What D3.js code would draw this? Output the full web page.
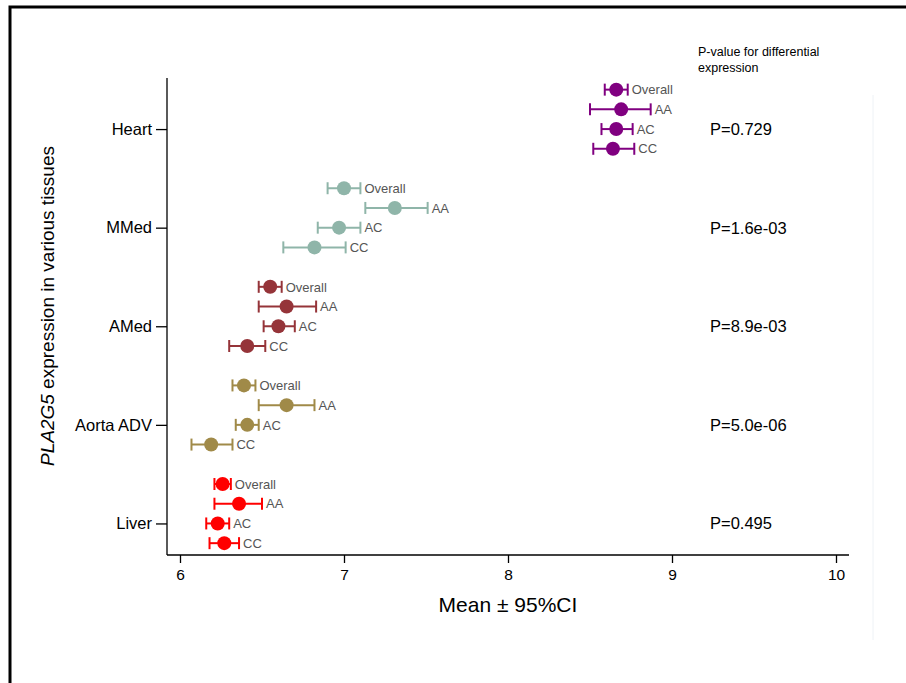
<!DOCTYPE html>
<html>
<head>
<meta charset="utf-8">
<script src="https://cdn.jsdelivr.net/npm/d3@7"></script>
<style>
  body { margin: 0; background: #fff; }
  text { font-family: "Liberation Sans", Arial, sans-serif; }
</style>
</head>
<body>
<div id="chart"></div>
<script>
const width = 906;
const height = 683;

// tissues top to bottom, genotype rows inside each tissue
const tissues = ['Heart', 'MMed', 'AMed', 'Aorta ADV', 'Liver'];
const genotypes = ['Overall', 'AA', 'AC', 'CC'];
const colors = ['#800080', '#8fb5a9', '#953439', '#a08a48', '#ff0000'];
const pvalues = ['P=0.729', 'P=1.6e-03', 'P=8.9e-03', 'P=5.0e-06', 'P=0.495'];

// mean, lower, upper per tissue, in genotype order
const means = [
  [8.66, 8.69, 8.66, 8.64],
  [7.00, 7.31, 6.97, 6.82],
  [6.55, 6.65, 6.60, 6.41],
  [6.39, 6.65, 6.41, 6.19],
  [6.26, 6.36, 6.23, 6.27]
];
const lower = [
  [8.59, 8.50, 8.57, 8.52],
  [6.90, 7.13, 6.84, 6.63],
  [6.48, 6.48, 6.51, 6.30],
  [6.32, 6.48, 6.34, 6.07],
  [6.21, 6.21, 6.16, 6.18]
];
const upper = [
  [8.73, 8.87, 8.76, 8.77],
  [7.10, 7.51, 7.10, 7.01],
  [6.62, 6.83, 6.70, 6.52],
  [6.46, 6.82, 6.48, 6.32],
  [6.31, 6.50, 6.30, 6.36]
];
const xTicks = [6, 7, 8, 9, 10];

const rows = [];
tissues.forEach((t, i) => {
  genotypes.forEach((g, j) => {
    rows.push({tissue: i, label: g, row: i * 5 + j,
      mean: means[i][j], lo: lower[i][j], hi: upper[i][j]});
  });
});

const svg = d3.select('#chart').append('svg')
  .attr('width', width)
  .attr('height', height);

// outer frame (top and left edges only visible)
svg.append('path')
  .attr('d', `M10,${height} L10,7 L${width},7`)
  .attr('fill', 'none')
  .attr('stroke', '#000')
  .attr('stroke-width', 3);

// faint line at right
svg.append('line')
  .attr('x1', 873).attr('x2', 873)
  .attr('y1', 95).attr('y2', 640)
  .attr('stroke', '#eef2f6');

const plotLeft = 167, plotRight = 849, plotTop = 78, plotBottom = 555;

const x = d3.scaleLinear().domain([6, 10]).range([180, 836]);
const y = d3.scaleLinear().domain([-0.59, 23.6]).range([plotTop, plotBottom]);

// x axis
const xAxis = svg.append('g')
  .attr('transform', `translate(0,${plotBottom})`)
  .call(d3.axisBottom(x).tickValues(xTicks).tickSize(8).tickPadding(6).tickFormat(d3.format('d')));
xAxis.select('.domain').remove();
xAxis.selectAll('.tick line').attr('stroke', '#000').attr('stroke-width', 1.3);
xAxis.selectAll('.tick text').attr('font-size', 15.5).attr('fill', '#000')
  .style('font-family', '"Liberation Sans", Arial, sans-serif');
svg.append('line')
  .attr('x1', plotLeft).attr('x2', plotRight)
  .attr('y1', plotBottom).attr('y2', plotBottom)
  .attr('stroke', '#000').attr('stroke-width', 1.3);

// y axis
const yAxis = svg.append('g')
  .attr('transform', `translate(${plotLeft},0)`)
  .call(d3.axisLeft(y).tickValues(tissues.map((t, i) => i * 5 + 2))
    .tickSize(11).tickPadding(4).tickFormat((d, i) => tissues[i]));
yAxis.select('.domain').remove();
yAxis.selectAll('.tick line').attr('stroke', '#000').attr('stroke-width', 1.3);
yAxis.selectAll('.tick text').attr('font-size', 16.5).attr('fill', '#000')
  .style('font-family', '"Liberation Sans", Arial, sans-serif');
svg.append('line')
  .attr('x1', plotLeft).attr('x2', plotLeft)
  .attr('y1', plotTop).attr('y2', plotBottom)
  .attr('stroke', '#000').attr('stroke-width', 1.3);

// error bars
const marks = svg.append('g');
const item = marks.selectAll('g.item')
  .data(rows)
  .join('g')
    .attr('class', 'item')
    .attr('stroke', d => colors[d.tissue])
    .attr('fill', d => colors[d.tissue]);

item.append('line')
  .attr('x1', d => x(d.lo)).attr('x2', d => x(d.hi))
  .attr('y1', d => y(d.row)).attr('y2', d => y(d.row))
  .attr('stroke-width', 2);
item.append('line')
  .attr('x1', d => x(d.lo)).attr('x2', d => x(d.lo))
  .attr('y1', d => y(d.row) - 6).attr('y2', d => y(d.row) + 6)
  .attr('stroke-width', 2);
item.append('line')
  .attr('x1', d => x(d.hi)).attr('x2', d => x(d.hi))
  .attr('y1', d => y(d.row) - 6).attr('y2', d => y(d.row) + 6)
  .attr('stroke-width', 2);
item.append('circle')
  .attr('cx', d => x(d.mean))
  .attr('cy', d => y(d.row))
  .attr('r', 7)
  .attr('stroke', 'none');
item.append('text')
  .attr('x', d => x(d.hi) + 4)
  .attr('y', d => y(d.row))
  .attr('dy', '0.36em')
  .attr('stroke', 'none')
  .attr('fill', '#555')
  .attr('font-size', 13)
  .text(d => d.label);

// p-values
svg.append('g').selectAll('text')
  .data(pvalues)
  .join('text')
    .attr('x', 710)
    .attr('y', (d, i) => y(i * 5 + 2))
    .attr('dy', '0.36em')
    .attr('font-size', 16.5)
    .text(d => d);

svg.append('text')
  .attr('x', 698).attr('y', 56)
  .attr('font-size', 12.5)
  .text('P-value for differential');
svg.append('text')
  .attr('x', 698).attr('y', 72)
  .attr('font-size', 12.5)
  .text('expression');

// axis titles
svg.append('text')
  .attr('x', 508).attr('y', 612)
  .attr('text-anchor', 'middle')
  .attr('font-size', 21)
  .text('Mean \u00b1 95%CI');

const yTitle = svg.append('text')
  .attr('transform', 'translate(54,306) rotate(-90)')
  .attr('text-anchor', 'middle')
  .attr('font-size', 19)
  .text(null);
yTitle.append('tspan').attr('font-style', 'italic').text('PLA2G5');
yTitle.append('tspan').text(' expression in various tissues');
</script>
</body>
</html>
